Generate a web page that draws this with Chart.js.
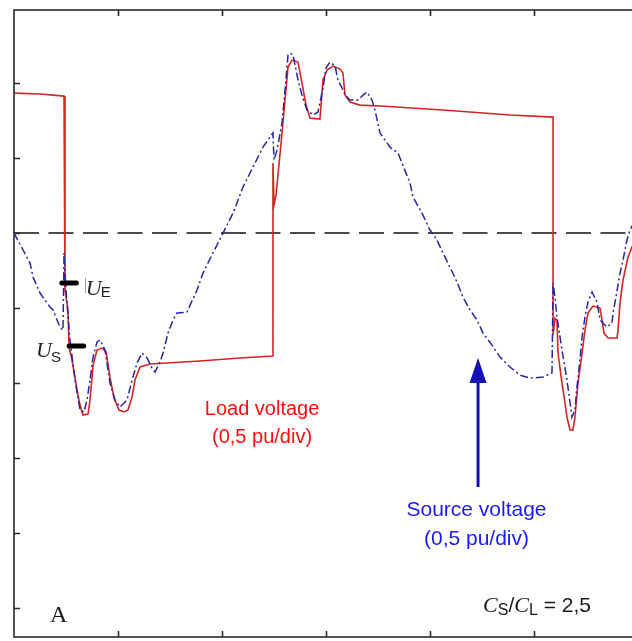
<!DOCTYPE html>
<html>
<head>
<meta charset="utf-8">
<script src="https://cdn.jsdelivr.net/npm/chart.js@4"></script>
<style>
  html, body { margin: 0; padding: 0; background: #fff; overflow: hidden; }
  #wrap { position: absolute; left: 0; top: 0; width: 640px; height: 641px; }
</style>
</head>
<body>
<div id="wrap"><canvas id="scope" width="640" height="641"></canvas></div>
<script>
// time axis in divisions, voltage in pu (0,5 pu/div)
const loadTime = [0, 0.25, 0.481, 0.49, 0.519, 0.529, 0.558, 0.606, 0.635, 0.663, 0.712, 0.731, 0.76, 0.798, 0.846, 0.885, 0.923, 0.962, 1.01, 1.058, 1.096, 1.135, 1.163, 1.212, 1.308, 1.788, 2.173, 2.49, 2.49, 2.5, 2.519, 2.529, 2.577, 2.606, 2.635, 2.673, 2.731, 2.769, 2.808, 2.846, 2.942, 2.971, 3.01, 3.067, 3.135, 3.163, 3.183, 3.231, 3.327, 3.519, 4.125, 4.769, 5.183, 5.183, 5.202, 5.221, 5.231, 5.269, 5.298, 5.317, 5.346, 5.375, 5.394, 5.423, 5.462, 5.49, 5.519, 5.567, 5.635, 5.654, 5.673, 5.712, 5.798, 5.808, 5.827, 5.856, 5.904, 5.942, 6.0];
const loadVoltage = [0.933, 0.927, 0.913, -0.38, -0.513, -0.76, -0.847, -1.047, -1.147, -1.213, -1.207, -1.113, -0.88, -0.78, -0.767, -0.793, -0.96, -1.1, -1.18, -1.193, -1.18, -1.093, -0.98, -0.893, -0.873, -0.853, -0.833, -0.82, 0.467, 0.187, 0.253, 0.32, 0.667, 0.887, 1.107, 1.153, 1.14, 1.0, 0.853, 0.767, 0.76, 1.02, 1.087, 1.113, 1.093, 1.067, 0.92, 0.873, 0.853, 0.847, 0.82, 0.787, 0.773, -0.68, -0.567, -0.58, -0.8, -1.0, -1.133, -1.227, -1.313, -1.313, -1.227, -1.0, -0.8, -0.647, -0.533, -0.487, -0.5, -0.58, -0.667, -0.7, -0.7, -0.647, -0.467, -0.313, -0.16, -0.093, -0.013];

const sourceTime = [0, 0.087, 0.154, 0.183, 0.25, 0.346, 0.375, 0.442, 0.471, 0.481, 0.5, 0.538, 0.587, 0.635, 0.673, 0.702, 0.731, 0.76, 0.798, 0.827, 0.875, 0.923, 0.971, 1.019, 1.087, 1.135, 1.183, 1.231, 1.279, 1.327, 1.356, 1.404, 1.433, 1.481, 1.529, 1.567, 1.663, 1.76, 1.817, 1.913, 2.01, 2.106, 2.202, 2.298, 2.394, 2.462, 2.49, 2.5, 2.529, 2.577, 2.606, 2.635, 2.654, 2.683, 2.731, 2.769, 2.817, 2.875, 2.923, 2.971, 3.0, 3.038, 3.087, 3.115, 3.154, 3.183, 3.231, 3.308, 3.356, 3.394, 3.442, 3.471, 3.519, 3.615, 3.692, 3.731, 3.808, 3.837, 3.923, 4.0, 4.067, 4.125, 4.192, 4.26, 4.317, 4.385, 4.452, 4.51, 4.596, 4.673, 4.769, 4.865, 4.962, 5.087, 5.173, 5.183, 5.202, 5.221, 5.269, 5.317, 5.365, 5.394, 5.413, 5.442, 5.462, 5.49, 5.519, 5.558, 5.606, 5.635, 5.702, 5.75, 5.76, 5.788, 5.827, 5.856, 5.894, 5.923, 6.0];
const sourceVoltage = [0, -0.113, -0.2, -0.293, -0.4, -0.493, -0.513, -0.627, -0.647, -0.133, -0.38, -0.713, -0.98, -1.18, -1.193, -1.113, -0.98, -0.827, -0.727, -0.713, -0.78, -1.0, -1.113, -1.16, -1.113, -0.98, -0.867, -0.8, -0.833, -0.9, -0.927, -0.86, -0.8, -0.667, -0.58, -0.533, -0.527, -0.38, -0.267, -0.133, 0, 0.133, 0.307, 0.44, 0.573, 0.64, 0.667, 0.487, 0.553, 0.733, 0.953, 1.187, 1.2, 1.187, 1.02, 0.92, 0.82, 0.787, 0.807, 0.967, 1.1, 1.14, 1.113, 1.02, 0.967, 0.92, 0.887, 0.887, 0.92, 0.94, 0.887, 0.82, 0.667, 0.573, 0.533, 0.467, 0.333, 0.24, 0.133, 0.02, -0.047, -0.133, -0.227, -0.327, -0.427, -0.513, -0.58, -0.667, -0.747, -0.827, -0.893, -0.947, -0.967, -0.96, -0.933, -0.333, -0.427, -0.56, -0.78, -0.98, -1.227, -1.18, -1.027, -0.847, -0.693, -0.56, -0.46, -0.393, -0.46, -0.58, -0.627, -0.6, -0.533, -0.427, -0.267, -0.18, -0.047, 0.02, 0.12];

const xTicks = [1, 2, 3, 4, 5];
const yTicks = [1.0, 0.5, 0, -0.5, -1.0, -1.5, -2.0, -2.5];

function toPoints(xs, ys) {
  return xs.map((x, i) => ({ x: x, y: ys[i] }));
}

const scopeFrame = {
  id: 'scopeFrame',
  beforeDatasetsDraw(chart) {
    const { ctx, chartArea: a, scales: { y } } = chart;
    const y0 = y.getPixelForValue(0);
    ctx.save();
    ctx.strokeStyle = '#111';
    ctx.lineWidth = 1.6;
    ctx.setLineDash([25, 9.5]);
    ctx.beginPath();
    ctx.moveTo(a.left, y0);
    ctx.lineTo(a.right, y0);
    ctx.stroke();
    ctx.restore();
  },
  afterDatasetsDraw(chart) {
    const { ctx, chartArea: a, scales: { x, y } } = chart;
    ctx.save();
    ctx.strokeStyle = '#2a2a2a';
    ctx.lineWidth = 1.6;
    ctx.strokeRect(a.left, a.top, a.right - a.left, a.bottom - a.top);
    ctx.beginPath();
    xTicks.forEach(t => {
      const px = Math.round(x.getPixelForValue(t)) + 0.5;
      ctx.moveTo(px, a.top); ctx.lineTo(px, a.top + 6);
      ctx.moveTo(px, a.bottom); ctx.lineTo(px, a.bottom - 6);
    });
    yTicks.forEach(t => {
      const py = Math.round(y.getPixelForValue(t)) + 0.5;
      ctx.moveTo(a.left, py); ctx.lineTo(a.left + 6, py);
    });
    ctx.stroke();
    ctx.restore();
  },
  afterDraw(chart) {
    const { ctx, scales: { x, y } } = chart;
    const X = v => x.getPixelForValue(v);
    const Y = v => y.getPixelForValue(v);
    ctx.save();

    // U_E and U_S markers
    ctx.strokeStyle = '#000';
    ctx.lineWidth = 5;
    ctx.lineCap = 'round';
    ctx.beginPath();
    ctx.moveTo(X(0.46), Y(-0.333)); ctx.lineTo(X(0.60), Y(-0.333));
    ctx.moveTo(X(0.53), Y(-0.753)); ctx.lineTo(X(0.67), Y(-0.753));
    ctx.stroke();
    ctx.lineCap = 'butt';
    ctx.strokeStyle = '#999';
    ctx.lineWidth = 1;
    ctx.beginPath();
    ctx.moveTo(X(0.683) + 0.5, Y(-0.3)); ctx.lineTo(X(0.683) + 0.5, Y(-0.4));
    ctx.stroke();

    ctx.fillStyle = '#222';
    ctx.textBaseline = 'alphabetic';
    ctx.textAlign = 'left';
    ctx.font = 'italic 22px "Liberation Serif"';
    ctx.fillText('U', X(0.69), Y(-0.413));
    ctx.fillText('U', X(0.212), Y(-0.827));
    ctx.font = '15px "Liberation Sans"';
    ctx.fillText('E', X(0.835), Y(-0.427));
    ctx.fillText('S', X(0.356), Y(-0.86));

    // load voltage label
    ctx.textAlign = 'center';
    ctx.fillStyle = '#ff0d0d';
    ctx.font = '20px "Liberation Sans"';
    ctx.fillText('Load voltage', X(2.385), Y(-1.213));
    ctx.fillText('(0,5 pu/div)', X(2.385), Y(-1.4));

    // source voltage label and arrow
    ctx.fillStyle = '#1a1aff';
    ctx.font = '21px "Liberation Sans"';
    ctx.fillText('Source voltage', X(4.447), Y(-1.887));
    ctx.fillText('(0,5 pu/div)', X(4.447), Y(-2.08));

    ctx.strokeStyle = '#1212b8';
    ctx.fillStyle = '#1212b8';
    ctx.lineWidth = 3;
    ctx.beginPath();
    ctx.moveTo(X(4.462), Y(-1.693));
    ctx.lineTo(X(4.462), Y(-0.98));
    ctx.stroke();
    ctx.beginPath();
    ctx.moveTo(X(4.462), Y(-0.833));
    ctx.lineTo(X(4.462) + 8.5, Y(-1.0));
    ctx.lineTo(X(4.462) - 8.5, Y(-1.0));
    ctx.closePath();
    ctx.fill();

    // panel letter and capacitance ratio
    ctx.textAlign = 'left';
    ctx.fillStyle = '#1a1a1a';
    ctx.font = '24px "Liberation Serif"';
    ctx.fillText('A', X(0.346), Y(-2.593));

    let cx = X(4.51);
    const by = Y(-2.527);
    const parts = [
      ['C', 'italic 22px "Liberation Serif"', 0],
      ['S', '16px "Liberation Sans"', 3],
      ['/', '21px "Liberation Sans"', 0],
      ['C', 'italic 22px "Liberation Serif"', 0],
      ['L', '16px "Liberation Sans"', 3],
      [' = 2,5', '21px "Liberation Sans"', 0]
    ];
    parts.forEach(([t, f, dy]) => {
      ctx.font = f;
      ctx.fillText(t, cx, by + dy);
      cx += ctx.measureText(t).width;
    });
    ctx.restore();
  }
};

new Chart(document.getElementById('scope').getContext('2d'), {
  type: 'line',
  data: {
    datasets: [
      {
        label: 'Source voltage',
        data: toPoints(sourceTime, sourceVoltage),
        borderColor: '#2626a4',
        borderWidth: 1.5,
        borderDash: [8, 3, 2, 3],
        pointRadius: 0,
        tension: 0,
        fill: false
      },
      {
        label: 'Load voltage',
        data: toPoints(loadTime, loadVoltage),
        borderColor: '#d42424',
        borderWidth: 1.6,
        pointRadius: 0,
        tension: 0,
        fill: false
      }
    ]
  },
  options: {
    responsive: false,
    animation: false,
    layout: { padding: { left: 14, top: 10, right: 2, bottom: 4 } },
    plugins: {
      legend: { display: false },
      tooltip: { enabled: false }
    },
    scales: {
      x: { type: 'linear', min: 0, max: 6, display: false },
      y: { type: 'linear', min: -2.693, max: 1.487, display: false }
    }
  },
  plugins: [scopeFrame]
});
</script>
</body>
</html>
